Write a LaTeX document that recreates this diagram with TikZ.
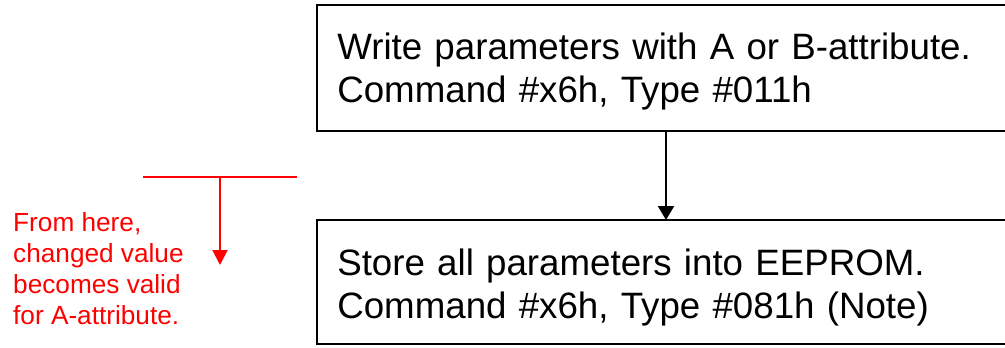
\documentclass[tikz,border=0pt]{standalone}
\usepackage{fontspec}
\setmainfont{Liberation Sans}
\usetikzlibrary{arrows.meta}
\definecolor{redline}{RGB}{255,0,0}
\tikzset{
  stepbox/.style={draw=black, line width=2pt, inner xsep=20.3pt, inner ysep=0pt, outer sep=0pt,
    text width=650pt, align=left, anchor=north west,
    font=\fontsize{36.7}{43.5}\selectfont},
  flowarrow/.style={draw=black, line width=2pt, -{Triangle[width=16pt,length=14pt]}},
  redarrow/.style={draw=redline, line width=2pt, -{Triangle[width=15pt,length=15pt]}},
  redrule/.style={draw=redline, line width=2pt},
  notetext/.style={text=redline, align=left, anchor=north west, inner sep=0pt,
    font=\fontsize{26.2}{30.8}\selectfont}
}
\begin{document}
\begin{tikzpicture}[x=1pt,y=-1pt]
\useasboundingbox (0,0) rectangle (1005,348);
\node[stepbox, minimum height=126pt, text height=30pt, text depth=47.4pt] (w) at (317,5) {Write parameters with A or B-attribute.\\Command \#x6h, Type \#011h};
\node[stepbox, minimum height=124pt, text height=32pt, text depth=46pt] (s) at (317,220) {Store all parameters into EEPROM.\\Command \#x6h, Type \#081h (Note)};
\coordinate (ax) at (666,0);
\draw[flowarrow] (ax |- w.south) -- (ax |- s.north);
\coordinate (rl) at (143,177);
\coordinate (rr) at (297,177);
\coordinate (rm) at (220,177);
\coordinate (rt) at (220,265);
\draw[redrule] (rl) -- (rr);
\draw[redarrow] (rm) -- (rt);
\node[notetext] (note) at (13,212.5) {From here,\\changed value\\becomes valid\\for A-attribute.};
\end{tikzpicture}
\end{document}
